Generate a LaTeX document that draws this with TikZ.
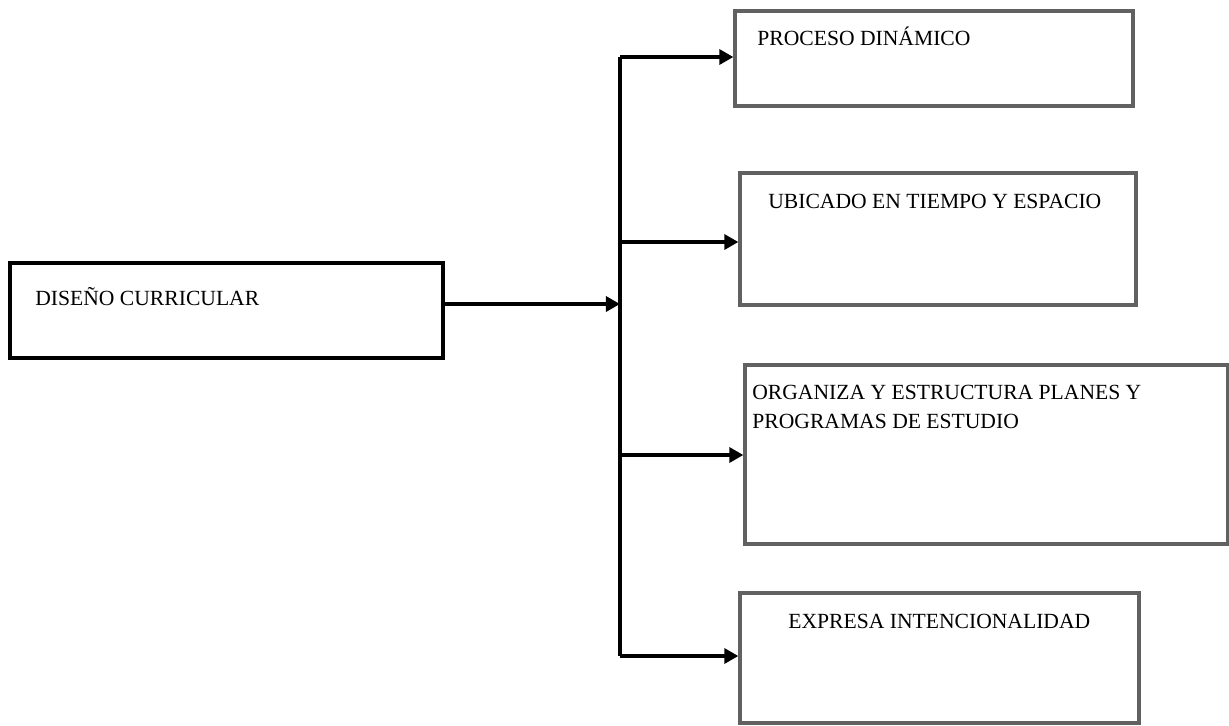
\documentclass[tikz,border=0pt]{standalone}
\usepackage{fontspec}
\setmainfont{Liberation Serif}
\usetikzlibrary{arrows.meta, positioning}

\begin{document}
\begin{tikzpicture}[x=0.02cm, y=-0.02cm,
		caja/.style={draw=black!62, line width=1.9pt, inner sep=0pt},
		raiz/.style={draw=black, line width=1.8pt, inner sep=0pt},
		txt/.style={inner sep=0pt, anchor=base west, align=left, font=\fontsize{12.3}{16}\selectfont},
		flecha/.style={line width=2pt, -{Triangle[length=8pt, width=8.5pt]}}]
			\useasboundingbox (0,0) rectangle (1229,725);
			% cajas
			\node[raiz, minimum width=8.66cm, minimum height=1.9cm] (diseno) at (226.5,310.5) {};
			\node[caja, minimum width=7.96cm, minimum height=1.9cm] (proceso) at (934,58.5) {};
			\node[caja, minimum width=7.92cm, minimum height=2.64cm] (ubicado) at (938,239) {};
			\node[caja, minimum width=9.66cm, minimum height=3.58cm] (organiza) at (986.5,454.5) {};
			\node[caja, minimum width=7.98cm, minimum height=2.6cm] (expresa) at (939.5,658) {};
			% textos
			\node[txt] (tdiseno) at (35,305) {DISEÑO CURRICULAR};
			\node[txt] (tproceso) at (757,45) {PROCESO DINÁMICO};
			\node[txt] (tubicado) at (768,208) {UBICADO EN TIEMPO Y ESPACIO};
			\node[txt] (torganiza) at (752,428) {ORGANIZA Y ESTRUCTURA PLANES Y\\PROGRAMAS DE ESTUDIO};
			\node[txt] (texpresa) at (788,628) {EXPRESA INTENCIONALIDAD};
			% ramas
			\foreach \n/\y in {proceso/57, ubicado/242, organiza/455, expresa/656}{
				\coordinate (r\n) at (620,\y);
				\draw[flecha] (r\n) -- (\n.west |- r\n);
			}
			\draw[line width=2.4pt] (rproceso) -- (rexpresa);
			\coordinate (cruce) at (620,304);
			\draw[flecha] (diseno.east |- cruce) -- (cruce);
		\end{tikzpicture}
\end{document}
